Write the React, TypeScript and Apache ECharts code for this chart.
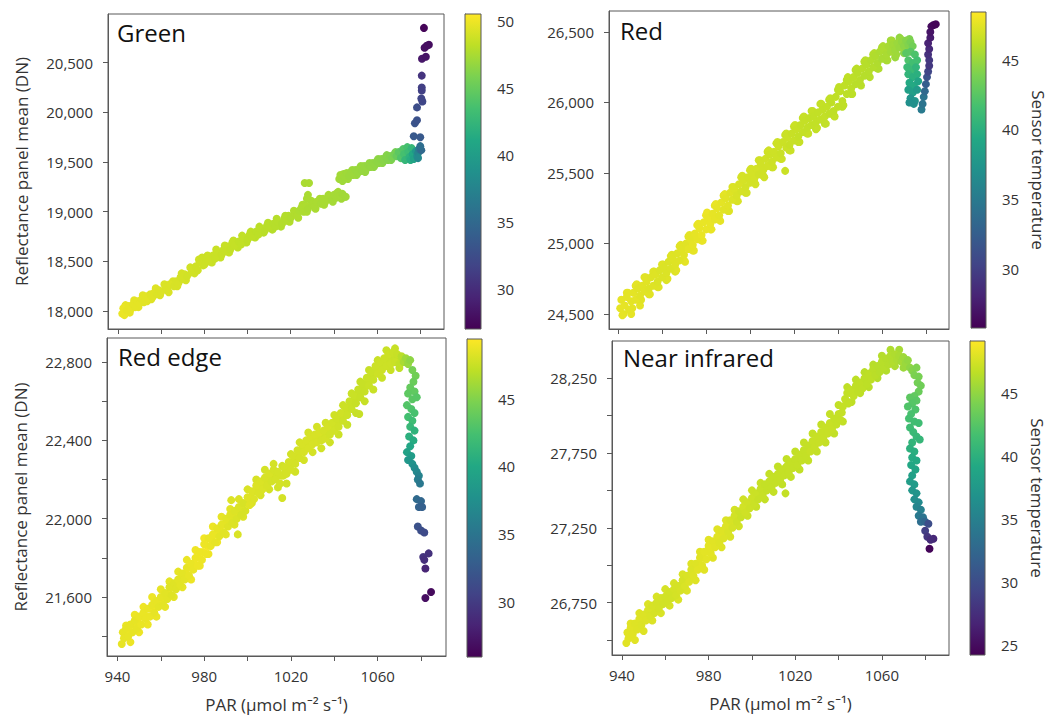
import React, { useEffect, useRef } from 'react';
import * as echarts from 'echarts';

// ---------- tick values ----------
const xTicks = [940, 960, 980, 1000, 1020, 1040, 1060, 1080];
const xLabels = [940, 980, 1020, 1060];

const greenYTicks = [18000, 18500, 19000, 19500, 20000, 20500];
const redYTicks = [24500, 25000, 25500, 26000, 26500];
const redEdgeYTicks = [21400, 21600, 21800, 22000, 22200, 22400, 22600, 22800];
const redEdgeYLabels = [21600, 22000, 22400, 22800];
const nirYTicks = [26500, 26750, 27000, 27250, 27500, 27750, 28000, 28250];
const nirYLabels = [26750, 27250, 27750, 28250];

const greenTempTicks = [30, 35, 40, 45, 50];
const redTempTicks = [30, 35, 40, 45];
const redEdgeTempTicks = [30, 35, 40, 45];
const nirTempTicks = [25, 30, 35, 40, 45];

const panelNames = ['Green', 'Red', 'Red edge', 'Near infrared'];

// ---------- data: [PAR, reflectance DN, sensor temperature] ----------
const greenPoints = [
  [942,17975,49.8],[942.5,18030,49.8],[943,17960,49.8],[944,18010,49.7],[945,18050,49.7],[946,18020,49.7],[947,18070,49.6],[948,18040,49.6],[949,18100,49.6],[950,18080,49.6],
  [951,18120,49.5],[952,18090,49.5],[953,18150,49.5],[954,18130,49.5],[955,18170,49.4],[956,18140,49.4],[957,18190,49.4],[958,18170,49.3],[959,18210,49.3],[960,18190,49.3],
  [962,18240,49.2],[963,18210,49.2],[964,18270,49.2],[966,18250,49.1],[967,18300,49.1],[968,18280,49.1],[969,18340,49],[970,18320,49],[971,18370,49],[972,18350,48.9],
  [974,18390,48.9],[975,18420,48.9],[976,18450,48.8],[977,18410,48.8],[978,18490,48.8],[979,18540,48.7],[980,18470,48.7],[981,18530,48.7],[982,18500,48.7],[984,18560,48.6],
  [985,18530,48.6],[986,18590,48.6],[988,18570,48.5],[989,18620,48.5],[990,18600,48.5],[991,18650,48.5],[992,18620,48.4],[993,18690,48.4],[994,18660,48.4],[996,18700,48.3],
  [997,18670,48.3],[998,18740,48.3],[1000,18720,48.2],[1001,18770,48.2],[1002,18750,48.2],[1004,18800,48.1],[1005,18770,48.1],[1006,18830,48.1],[1008,18810,48],[1009,18860,48],
  [1010,18840,48],[1012,18880,47.9],[1013,18850,47.9],[1014,18900,47.9],[1016,18880,47.8],[1017,18930,47.8],[1018,18910,47.8],[1019,18960,47.8],[1020,18940,47.7],[1022,18990,47.7],
  [1023,18960,47.7],[1024,19010,47.6],[1025,19040,47.6],[1026,19000,47.6],[1027,19060,47.6],[1028,19030,47.5],[1030,19080,47.5],[1031,19050,47.5],[1032,19100,47.5],[1034,19080,47.4],
  [1035,19130,47.4],[1036,19100,47.4],[1038,19150,47.4],[1039,19120,47.3],[1040,19170,47.3],[1041,19140,47.3],[1042,19200,47.3],[1043,19160,47.3],[1044,19180,47.2],[1045.5,19150,47.2],
  [1026.5,19290,47.5],[1028.5,19290,47.5],[1028,19170,47.5],[1027.5,19130,47.5],
  [1042.5,19330,47.2],[1043,19370,47.2],[1044,19310,47.1],[1045,19350,47.1],[1046,19390,47.1],[1047,19360,47],[1048,19400,47],[1049,19370,47],[1050,19420,46.9],[1051,19390,46.9],
  [1052,19440,46.9],[1053,19410,46.8],[1054,19460,46.8],[1055,19430,46.8],[1056,19470,46.7],[1057,19450,46.7],[1058,19490,46.6],[1059,19470,46.6],[1060,19510,46.5],[1061,19490,46.5],
  [1062,19530,46.4],[1063,19510,46.3],[1064,19550,46.2],[1065,19520,46.1],[1066,19560,46],[1067,19540,45.8],[1068,19580,45.6],
  [1069,19560,45],[1070,19600,44.5],[1071,19540,44],[1072,19630,44],[1072.5,19580,43.5],[1073,19520,42.5],[1074,19650,43.5],[1074.5,19600,43],[1075,19550,42],[1075.5,19520,41.5],
  [1076,19640,42.5],[1076.5,19580,41],[1077,19530,40.5],[1078,19610,39.5],[1078.5,19560,39],[1079,19590,37.5],[1079.5,19630,36.5],[1079,19540,38],[1080.5,19620,35],[1080,19660,35.5],
  [1077,19760,33.5],[1080,19750,33.5],[1077.5,19890,33],[1078.5,19920,32.8],[1078.5,20050,32.5],[1081,20110,32],[1080.5,20140,31.8],[1080.7,20220,31.5],[1080.7,20250,31.3],[1080.7,20370,30.5],
  [1080.8,20540,28.5],[1082.6,20560,28.3],[1082,20650,28],[1084,20680,27.8],[1083,20670,27.9],[1081.7,20850,27.3],
];
const greenFill = [
  [943.5,18060,49.7],[945.5,17985,49.7],[947.5,18110,49.6],[949.5,18040,49.6],[951.5,18160,49.5],[953.5,18100,49.5],[955.5,18120,49.4],[957.5,18230,49.4],[959.5,18160,49.3],[961.5,18270,49.2],
  [963.5,18190,49.2],[965.5,18300,49.1],[967.5,18250,49.1],[969.5,18380,49],[971.5,18310,49],[973.5,18440,48.9],[975.5,18380,48.9],[977.5,18520,48.8],[979.5,18460,48.7],[981.5,18560,48.7],
  [983.5,18490,48.6],[985.5,18620,48.6],[987.5,18540,48.5],[989.5,18660,48.5],[991.5,18590,48.5],[993.5,18710,48.4],[995.5,18640,48.3],[997.5,18760,48.3],[999.5,18690,48.2],[1001.5,18800,48.2],
  [1003.5,18740,48.1],[1005.5,18850,48.1],[1007.5,18790,48],[1009.5,18890,48],[1011.5,18820,47.9],[1013.5,18930,47.9],[1015.5,18850,47.8],[1017.5,18960,47.8],[1019.5,18900,47.8],[1021.5,19010,47.7],
  [1023.5,18940,47.7],[1025.5,19070,47.6],[1027.5,19000,47.6],[1029.5,19110,47.5],[1031.5,19030,47.5],[1033.5,19130,47.5],[1035.5,19070,47.4],[1037.5,19170,47.4],[1039.5,19100,47.3],[1041.5,19190,47.3],
  [1043.5,19130,47.2],
  [1044.5,19380,47.1],[1046.5,19330,47.1],[1048.5,19420,47],[1050.5,19370,46.9],[1052.5,19460,46.9],[1054.5,19400,46.8],[1056.5,19490,46.7],[1058.5,19450,46.6],[1060.5,19530,46.5],[1062.5,19490,46.4],
  [1064.5,19570,46.2],[1066.5,19520,46],[1068.5,19600,45.6],[1070.5,19570,45],
];

const redPoints = [
  [941,24540,47.6],[941.5,24600,47.6],[942,24490,47.6],[943,24560,47.6],[944,24620,47.5],[945,24530,47.5],[946,24590,47.5],[947,24650,47.5],[948,24600,47.5],[949,24680,47.4],
  [950,24630,47.4],[951,24700,47.4],[952,24660,47.4],[953,24730,47.4],[954,24680,47.3],[955,24760,47.3],[956,24700,47.3],[957,24780,47.3],[958,24730,47.2],[959,24810,47.2],
  [960,24760,47.2],[961,24830,47.2],[962,24790,47.2],[963,24870,47.2],[964,24820,47.2],[965,24890,47.3],[966,24850,47.3],[967,24930,47.3],[968,24880,47.3],[969,24960,47.4],
  [970,24920,47.4],[971,25000,47.4],[972,24960,47.5],[973,25030,47.5],[974,24990,47.6],[975,25070,47.6],[976,25030,47.6],[977,25110,47.7],[978,25060,47.7],[979,25150,47.7],
  [980,25100,47.7],[981,25180,47.7],[982,25140,47.7],[983,25210,47.6],[984,25170,47.6],[985,25250,47.6],[986,25200,47.5],[987,25290,47.5],[988,25240,47.4],[989,25320,47.4],
  [990,25270,47.4],[991,25360,47.3],[992,25310,47.2],[993,25380,47.2],[994,25340,47.1],[995,25420,47.1],[996,25370,47],[997,25450,47],[998,25400,46.9],[999,25470,46.9],
  [1000,25430,46.9],[1001,25500,46.9],[1002,25460,46.9],[1003,25530,46.9],[1004,25490,46.8],[1005,25560,46.8],[1006,25520,46.8],[1007,25600,46.8],[1008,25550,46.8],[1009,25630,46.7],
  [1010,25580,46.7],[1011,25650,46.7],[1012,25610,46.7],[1013,25690,46.7],[1014,25640,46.6],[1015,25720,46.6],[1016,25515,46.6],[1016.5,25680,46.6],[1017,25750,46.6],[1018,25700,46.5],
  [1019,25780,46.5],[1020,25730,46.5],[1021,25810,46.5],[1022,25760,46.4],[1023,25840,46.4],[1024,25790,46.4],[1025,25870,46.4],[1026,25820,46.3],[1027,25890,46.3],[1028,25840,46.3],
  [1029,25900,46.3],[1030,25860,46.3],[1031,25930,46.3],[1032,25880,46.3],[1033,25950,46.3],[1034,25900,46.3],[1035,25970,46.3],[1036,25920,46.2],[1037,26000,46.2],[1038,25940,46.2],
  [1039,26040,46.2],[1040,25970,46.2],[1041,26080,46.2],[1042,26010,46.2],[1043,26120,46.2],[1044,26060,46.1],[1045,26150,46.1],[1046,26100,46.1],[1047,26180,46.1],[1048,26130,46],
  [1049,26210,46],[1050,26160,46],[1051,26240,46],[1052,26190,45.9],[1053,26270,45.9],[1054,26220,45.9],[1055,26300,45.8],[1056,26250,45.8],[1057,26330,45.7],[1058,26280,45.7],
  [1059,26360,45.6],[1060,26310,45.5],[1061,26380,45.6],[1062,26340,45.5],[1063,26400,45.4],[1064,26360,45.3],[1065,26410,45.2],[1066,26370,45.1],[1067,26420,45],[1068,26390,44.9],
  [1069,26430,44.7],[1070,26400,44.5],[1071,26440,44.3],[1072,26410,44.1],[1073,26430,43.8],[1074,26400,43.5],
  [1071,26350,42.5],[1073,26360,42.5],[1075,26340,42],[1072,26300,42],[1074,26280,41.5],[1076,26300,41.5],[1071.5,26250,41],[1073.5,26230,41],[1075.5,26250,40.5],[1072,26200,40.5],
  [1074,26180,40],[1076,26200,40],[1072.5,26140,39.5],[1074.5,26120,39.5],[1076.5,26150,39],[1072,26090,38.5],[1074,26070,38.5],[1076,26090,38],[1073,26030,37.5],[1075,26010,37.5],
  [1072.5,26000,37],[1074.5,25990,37],
  [1078,25950,35],[1078.5,25990,34.5],[1079,26040,34.5],[1079.5,26080,33.5],[1080,26130,32.5],[1080.5,26180,31.5],[1081,26220,30.5],[1081.5,26260,29.5],[1081.5,26300,29.5],[1081,26340,29],
  [1081.5,26380,28.5],[1081,26420,28],[1082,26460,27.5],[1082,26500,27],[1082.5,26540,26.5],[1083.5,26550,26.2],[1084.5,26555,26],
];
const redFill = [
  [942.5,24500,47.5],[944.5,24650,47.5],[946.5,24540,47.5],[948.5,24710,47.5],[950.5,24600,47.4],[952.5,24760,47.4],[954.5,24640,47.4],[956.5,24800,47.3],[958.5,24690,47.3],[960.5,24850,47.3],
  [962.5,24750,47.3],[964.5,24920,47.3],[966.5,24810,47.4],[968.5,24990,47.4],[970.5,24870,47.5],[972.5,25060,47.5],[974.5,24950,47.6],[976.5,25140,47.7],[978.5,25020,47.7],[980.5,25220,47.8],
  [982.5,25100,47.7],[984.5,25280,47.7],[986.5,25160,47.6],[988.5,25350,47.5],[990.5,25230,47.3],[992.5,25400,47.2],[994.5,25300,47.1],[996.5,25480,47],[998.5,25360,46.9],[1000.5,25530,46.9],
  [1002.5,25420,46.9],[1004.5,25590,46.8],[1006.5,25470,46.8],[1008.5,25660,46.8],[1010.5,25540,46.7],[1012.5,25720,46.7],[1014.5,25600,46.7],[1016.5,25780,46.6],[1018.5,25660,46.6],[1020.5,25840,46.6],
  [1022.5,25720,46.5],[1024.5,25900,46.5],[1026.5,25780,46.5],[1028.5,25940,46.4],[1030.5,25820,46.4],[1032.5,25990,46.4],[1034.5,25850,46.3],[1036.5,26030,46.3],[1038.5,25900,46.3],[1040.5,26110,46.2],
  [1042.5,25980,46.2],[1044.5,26180,46.2],[1046.5,26060,46.1],[1048.5,26240,46.1],[1050.5,26120,46],[1052.5,26300,46],[1054.5,26180,45.9],[1056.5,26350,45.8],[1058.5,26240,45.7],[1060.5,26400,45.6],
  [1062.5,26300,45.5],[1064.5,26440,45.3],[1066.5,26340,45.1],[1068.5,26450,44.8],[1070.5,26370,44.5],[1072.5,26450,44],
];
const redOuter = [
  [944,24650,47.6],[946,24500,47.6],[948,24700,47.5],[950,24560,47.5],[952,24760,47.4],[954,24640,47.4],[956,24800,47.3],[958,24690,47.3],[960,24850,47.2],[962,24740,47.2],
  [964,24910,47.3],[966,24800,47.3],[968,24980,47.4],[970,24880,47.4],[972,25050,47.5],[974,24950,47.6],[976,25130,47.7],[978,25020,47.7],[980,25200,47.8],[982,25100,47.7],
  [984,25270,47.6],[986,25170,47.5],[988,25340,47.4],[990,25230,47.3],[992,25400,47.2],[994,25300,47.1],[996,25470,47],[998,25360,46.9],[1000,25520,46.9],[1002,25430,46.8],
  [1004,25590,46.8],[1006,25480,46.7],[1008,25650,46.7],[1010,25540,46.6],[1012,25710,46.6],[1014,25600,46.6],[1016,25770,46.5],[1018,25660,46.5],[1020,25830,46.5],[1022,25720,46.4],
  [1024,25890,46.4],[1026,25780,46.4],[1028,25940,46.3],[1030,25810,46.3],[1032,25990,46.3],[1034,25850,46.2],[1036,26020,46.2],[1038,25910,46.2],[1040,26090,46.1],[1042,25970,46.1],
  [1044,26160,46.1],[1046,26060,46],[1048,26230,46],[1050,26130,45.9],[1052,26290,45.9],[1054,26190,45.8],[1056,26340,45.7],[1058,26240,45.6],[1060,26390,45.5],[1062,26300,45.4],
  [1064,26440,45.2],[1066,26320,45],[1068,26460,44.7],[1070,26350,44.3],
];

const redEdgePoints = [
  [942,21360,48.6],[942.5,21420,48.6],[943,21390,48.6],[944,21440,48.6],[945,21400,48.6],[946,21460,48.6],[947,21420,48.6],[948,21480,48.6],[949,21440,48.6],[950,21500,48.7],
  [951,21460,48.7],[952,21520,48.7],[953,21490,48.7],[954,21540,48.7],[955,21500,48.7],[956,21560,48.6],[957,21520,48.6],[958,21580,48.6],[959,21550,48.5],[960,21600,48.5],
  [961,21560,48.5],[962,21620,48.4],[963,21590,48.4],[964,21650,48.3],[965,21610,48.3],[966,21670,48.3],[967,21640,48.3],[968,21690,48.4],[969,21660,48.4],[970,21720,48.5],
  [971,21690,48.5],[972,21750,48.6],[973,21710,48.6],[974,21770,48.7],[975,21740,48.7],[976,21800,48.8],[977,21760,48.8],[978,21830,48.8],[979,21790,48.8],[980,21870,48.8],
  [981,21820,48.8],[982,21900,48.7],[983,21860,48.7],[984,21920,48.7],[985,21880,48.6],[986,21950,48.6],[987,21910,48.5],[988,21970,48.5],[989,21930,48.4],[990,22000,48.4],
  [991,21960,48.3],[992,22020,48.3],[993,21980,48.2],[994,22040,48.2],[995,22000,48.1],[995.5,21920,48.1],[992.5,22095,48.2],[996,22060,48.1],[997,22020,48],[998,22080,48],[999,22040,48],
  [1000,22110,48.3],[1001,22070,48.3],[1002,22140,48.2],[1003,22100,48.2],[1004,22170,48.2],[1005,22130,48.1],[1006,22190,48.1],[1007,22150,48.1],[1008,22210,48],[1009,22170,48],
  [1010,22230,48],[1011,22190,47.9],[1012,22250,47.9],[1013,22200,47.9],[1014,22240,47.9],[1015,22180,47.9],[1016,22106,47.9],[1016.5,22220,47.9],[1017,22260,47.9],[1018,22230,47.9],
  [1019,22290,47.9],[1020,22250,47.9],[1021,22320,47.9],[1022,22280,47.9],[1023,22350,47.9],[1024,22310,47.9],[1025,22380,48],[1026,22340,48],[1027,22400,48],[1028,22360,48],
  [1029,22420,48],[1030,22380,48],[1031,22430,48],[1032,22390,48],[1033,22440,48],[1034,22400,47.9],[1035,22450,47.9],[1036,22410,47.9],[1037,22470,47.9],[1038,22430,47.8],
  [1039,22490,47.8],[1040,22450,47.8],[1041,22510,47.7],[1042,22470,47.7],[1043,22540,47.7],[1044,22500,47.6],[1045,22570,47.6],[1046,22530,47.6],[1047,22600,47.5],[1048,22560,47.5],
  [1049,22630,47.5],[1050,22590,47.4],[1051,22660,47.4],[1051.5,22535,47.4],[1052,22620,47.4],[1053,22690,47.4],[1054,22650,47.4],[1055,22720,47.5],[1056,22680,47.5],[1057,22750,47.5],
  [1058,22710,47.5],[1059,22780,47.6],[1060,22740,47.6],[1061,22800,47.6],[1062,22760,47.6],[1063,22820,47.6],[1064,22780,47.6],[1065,22840,47.6],[1066,22790,47.6],[1067,22850,47.5],
  [1068,22800,47.5],[1069,22840,47.4],[1070,22790,47.2],[1071,22830,46.9],[1072,22800,46.4],[1073,22820,46],[1074,22790,45.7],[1075,22810,45.4],
  [1076,22760,44.5],[1077.5,22730,44.3],[1076.5,22700,44],[1075,22670,43.8],[1077,22650,43.6],[1074,22640,43.5],[1076,22610,43.3],[1078,22620,43.2],[1073.5,22580,43],[1075.5,22560,42.8],
  [1077,22540,42.5],[1074,22520,42.3],[1076,22500,42],[1075,22470,41.5],[1077,22450,41],[1074.5,22420,40.7],[1076.5,22400,40.3],[1075,22370,39.8],[1073.5,22340,39.3],[1075.5,22320,38.8],
  [1074,22300,38.3],[1076,22280,37.8],[1077,22260,37.3],[1078,22240,36.8],[1079,22220,36.3],[1078.5,22200,35.8],[1079.5,22180,35.3],[1078,22100,34],[1080,22090,33.6],[1079,22060,33.2],
  [1080.5,22060,33],[1078.5,21960,31.8],[1080,21940,31.5],[1081.5,21930,31.2],[1081,21805,29.4],[1083.5,21823,29.2],[1081.5,21790,29],[1082,21746,28.3],[1082,21595,26.8],[1084.6,21626,26.5],
];
const redEdgeFill = [
  [943.5,21400,48.9],[945.5,21430,48.9],[947.5,21460,48.9],[949.5,21470,48.9],[951.5,21500,48.9],[953.5,21500,48.9],[955.5,21540,48.9],[957.5,21550,48.9],[959.5,21580,48.8],[961.5,21590,48.8],
  [963.5,21620,48.7],[965.5,21650,48.7],[967.5,21670,48.7],[969.5,21700,48.8],[971.5,21720,48.8],[973.5,21750,48.9],[975.5,21770,49],[977.5,21800,49],[979.5,21830,49],[981.5,21860,49],
  [983.5,21890,48.9],[985.5,21920,48.9],[987.5,21940,48.8],[989.5,21970,48.7],[991.5,21990,48.6],[993.5,22010,48.5],[995.5,22030,48.5],[997.5,22050,48.4],[999.5,22080,48.3],[1001.5,22110,48.2],
  [1003.5,22140,48.2],[1005.5,22160,48.1],[1007.5,22180,48],[1009.5,22200,48],[1011.5,22220,47.9],[1013.5,22220,47.9],[1015.5,22220,47.9],[1017.5,22240,47.9],[1019.5,22270,47.9],[1021.5,22300,47.9],
  [1023.5,22330,47.9],[1025.5,22360,47.9],[1027.5,22380,47.9],[1029.5,22400,47.9],[1031.5,22410,47.9],[1033.5,22420,47.9],[1035.5,22430,47.8],[1037.5,22450,47.8],[1039.5,22470,47.7],[1041.5,22490,47.7],
  [1043.5,22520,47.6],[1045.5,22550,47.6],[1047.5,22580,47.5],[1049.5,22610,47.5],[1051.5,22640,47.4],[1053.5,22670,47.4],[1055.5,22700,47.4],[1057.5,22730,47.4],[1059.5,22760,47.5],[1061.5,22780,47.5],
  [1063.5,22800,47.5],[1065.5,22815,47.5],[1067.5,22825,47.4],[1069.5,22815,47.2],[1071.5,22815,46.8],
];
const redEdgeOuter = [
  [944,21455,48.7],[946,21370,48.8],[948,21510,48.8],[950,21420,48.8],[952,21550,48.9],[954,21460,48.8],[956,21600,48.8],[958,21500,48.7],[960,21640,48.6],[962,21550,48.6],
  [964,21680,48.5],[966,21600,48.5],[968,21730,48.6],[970,21650,48.6],[972,21790,48.7],[974,21690,48.8],[976,21840,48.9],[978,21760,48.9],[980,21900,49],[982,21820,48.9],
  [984,21960,48.8],[986,21880,48.8],[988,22010,48.6],[990,21920,48.5],[992,22050,48.4],[994,21970,48.3],[996,22100,48.2],[998,22010,48.2],[1000,22150,48.1],[1002,22080,48.1],
  [1004,22200,48],[1006,22120,48],[1008,22250,47.9],[1010,22150,47.9],[1012,22280,47.9],[1014,22160,47.8],[1016,22270,47.8],[1018,22180,47.8],[1020,22330,47.8],[1022,22240,47.8],
  [1024,22390,47.9],[1026,22300,47.9],[1028,22440,47.9],[1030,22340,47.9],[1032,22470,47.9],[1034,22360,47.8],[1036,22490,47.8],[1038,22390,47.7],[1040,22530,47.7],[1042,22430,47.6],
  [1044,22580,47.6],[1046,22480,47.5],[1048,22640,47.5],[1050,22540,47.4],[1052,22700,47.4],[1054,22600,47.4],[1056,22760,47.4],[1058,22660,47.5],[1060,22810,47.5],[1062,22720,47.5],
  [1064,22860,47.5],[1066,22760,47.5],[1068,22870,47.4],[1070,22770,47.2],
];

const nirPoints = [
  [942,26480,48],[942.5,26550,48],[943,26510,48],[944,26580,48],[945,26540,48],[946,26610,47.9],[947,26570,47.9],[948,26640,47.9],[949,26600,47.8],[950,26670,47.8],
  [951,26630,47.8],[952,26700,47.7],[953,26660,47.7],[954,26730,47.6],[955,26680,47.6],[956,26750,47.5],[957,26710,47.5],[958,26780,47.5],[959,26740,47.4],[960,26790,47.4],
  [961,26760,47.4],[962,26820,47.4],[963,26780,47.4],[964,26840,47.5],[965,26800,47.5],[966,26860,47.5],[967,26830,47.6],[968,26900,47.6],[969,26860,47.7],[970,26930,47.7],
  [971,26890,47.8],[972,26970,47.8],[973,26930,47.9],[974,27010,47.9],[975,26970,48],[976,27050,48],[977,27000,48],[978,27090,48.1],[979,27040,48.1],[980,27130,48.1],
  [981,27080,48.1],[982,27160,48],[983,27120,48],[984,27190,48],[985,27150,47.9],[986,27230,47.9],[987,27180,47.8],[988,27260,47.8],[989,27220,47.7],[990,27300,47.6],
  [991,27250,47.5],[992,27330,47.4],[993,27290,47.3],[994,27360,47.2],[995,27320,47.1],[996,27390,47.4],[997,27350,47.3],[998,27420,47.3],[999,27380,47.2],[1000,27450,47.2],
  [1001,27410,47.1],[1002,27480,47.1],[1003,27440,47],[1004,27510,47],[1005,27470,47],[1006,27540,46.9],[1007,27500,46.9],[1008,27560,46.9],[1009,27520,46.9],[1010,27590,46.9],
  [1011,27550,46.9],[1012,27610,46.9],[1013,27570,46.9],[1014,27640,46.9],[1015,27600,46.9],[1015.5,27480,46.9],[1016,27660,46.9],[1017,27620,46.9],[1018,27690,46.9],[1019,27650,46.9],
  [1020,27710,46.9],[1021,27670,46.9],[1022,27740,46.9],[1023,27700,46.9],[1024,27770,46.9],[1025,27730,46.9],[1026,27800,46.9],[1027,27760,47],[1028,27830,47],[1029,27790,47],
  [1030,27860,47],[1031,27820,47],[1032,27890,47],[1033,27850,47],[1034,27920,47],[1035,27880,47],[1036,27950,47],[1037,27910,47],[1038,27980,46.9],[1039,27940,46.9],
  [1040,28010,46.9],[1041,27970,46.9],[1042,28060,46.9],[1043,28110,46.9],[1044,28150,46.8],[1044.5,28080,46.8],[1046,28170,46.8],[1047,28130,46.8],[1048,28200,46.7],[1049,28160,46.7],
  [1050,28220,46.7],[1051,28180,46.7],[1052,28250,46.6],[1053,28210,46.6],[1054,28280,46.6],[1055,28240,46.6],[1056,28310,46.5],[1057,28270,46.5],[1058,28330,46.4],[1059,28290,46.4],
  [1060,28360,46.4],[1061,28320,46.4],[1062,28380,46.3],[1063,28340,46.3],[1064,28400,46.2],[1065,28360,46.2],[1066,28410,46.1],[1067,28370,46],[1068,28400,45.9],[1069,28360,45.7],
  [1070,28390,45.5],[1071,28350,45.3],[1072,28370,45.1],[1073,28320,44.9],
  [1074,28300,44.5],[1076,28320,44.3],[1075,28270,44.2],[1077,28260,44],[1076.5,28220,43.8],[1078,28200,43.6],[1077,28160,43.4],[1075,28130,43],[1073,28120,42.8],[1076,28100,42.6],
  [1074,28080,42.4],[1072,28060,42.2],[1075.5,28040,42],[1073.5,28010,41.8],[1072.5,27980,41.6],[1075,27960,41.4],[1077,27950,41.3],[1073,27920,41.2],[1074.5,27890,41],[1076,27860,40.8],
  [1077.5,27840,40.6],[1074,27820,40.4],[1073,27780,40],[1075,27760,39.8],[1074,27720,39.5],[1076,27700,39.3],[1073.5,27670,39],[1075.5,27640,38.7],[1074,27600,38.3],[1073,27560,38],
  [1075,27540,37.7],[1074,27500,37.3],[1076,27480,37],[1075,27440,36.5],[1077,27420,36],[1076,27390,35.5],[1078,27370,35],[1077,27330,34.3],[1079,27320,33.8],[1078,27290,33.2],
  [1080,27290,32.5],[1081.5,27277,30],[1080,27230,28.8],[1081,27190,28],[1083.8,27177,27],[1082.5,27170,27.3],[1082,27110,24.5],
];
const nirFill = [
  [943.5,26530,48.1],[945.5,26575,48.1],[947.5,26605,48.1],[949.5,26640,48],[951.5,26670,48],[953.5,26700,47.9],[955.5,26720,47.9],[957.5,26750,47.8],[959.5,26770,47.8],[961.5,26795,47.8],
  [963.5,26815,47.8],[965.5,26835,47.8],[967.5,26870,47.9],[969.5,26900,47.9],[971.5,26935,48],[973.5,26975,48],[975.5,27010,48.1],[977.5,27050,48.1],[979.5,27090,48.2],[981.5,27125,48.2],
  [983.5,27160,48.1],[985.5,27195,48.1],[987.5,27225,48],[989.5,27265,47.9],[991.5,27295,47.8],[993.5,27330,47.7],[995.5,27360,47.6],[997.5,27395,47.5],[999.5,27420,47.4],[1001.5,27450,47.3],
  [1003.5,27480,47.2],[1005.5,27505,47.1],[1007.5,27535,47],[1009.5,27560,47],[1011.5,27585,47],[1013.5,27610,47],[1015.5,27630,47],[1017.5,27660,47],[1019.5,27685,47],[1021.5,27710,47],
  [1023.5,27740,47],[1025.5,27770,47],[1027.5,27800,47],[1029.5,27830,47],[1031.5,27860,47],[1033.5,27890,47],[1035.5,27920,47],[1037.5,27950,47],[1039.5,27980,46.9],[1041.5,28020,46.9],
  [1043.5,28100,46.8],[1045.5,28150,46.8],[1047.5,28170,46.8],[1049.5,28195,46.7],[1051.5,28220,46.7],[1053.5,28250,46.6],[1055.5,28275,46.6],[1057.5,28305,46.5],[1059.5,28330,46.4],[1061.5,28355,46.3],
  [1063.5,28375,46.2],[1065.5,28390,46.1],[1067.5,28390,45.9],[1069.5,28375,45.6],[1071.5,28360,45.2],
];
const nirOuter = [
  [944,26610,48],[946,26500,48],[948,26680,47.9],[950,26560,47.9],[952,26740,47.8],[954,26630,47.8],[956,26790,47.7],[958,26680,47.7],[960,26840,47.6],[962,26730,47.6],
  [964,26880,47.6],[966,26770,47.7],[968,26940,47.7],[970,26830,47.8],[972,27010,47.9],[974,26900,47.9],[976,27090,48],[978,26970,48],[980,27170,48.1],[982,27050,48],
  [984,27240,48],[986,27120,47.9],[988,27300,47.8],[990,27190,47.7],[992,27370,47.5],[994,27260,47.4],[996,27440,47.3],[998,27330,47.2],[1000,27500,47.1],[1002,27390,47],
  [1004,27550,47],[1006,27440,46.9],[1008,27610,46.9],[1010,27490,46.9],[1012,27660,46.8],[1014,27540,46.8],[1016,27710,46.8],[1018,27590,46.8],[1020,27760,46.8],[1022,27640,46.8],
  [1024,27820,46.9],[1026,27700,46.9],[1028,27880,46.9],[1030,27760,46.9],[1032,27940,46.9],[1034,27820,46.9],[1036,28010,46.9],[1038,27880,46.8],[1040,28070,46.8],[1042,27960,46.8],
  [1044,28190,46.7],[1046,28090,46.7],[1048,28240,46.6],[1050,28150,46.6],[1052,28290,46.5],[1054,28190,46.5],[1056,28340,46.4],[1058,28250,46.3],[1060,28400,46.3],[1062,28300,46.2],
  [1064,28440,46.1],[1066,28330,46],[1068,28440,45.8],[1070,28320,45.4],
];

// axis ranges
const greenX = [935.4, 1091];
const greenY = [17820, 20990];
const greenT = [27.0, 50.5];
const redX = [935.9, 1090.5];
const redY = [24393, 26649];
const redT = [25.8, 48.4];
const redEdgeX = [935.2, 1091.5];
const redEdgeY = [21299, 22923];
const redEdgeT = [25.9, 49.4];
const nirX = [935.4, 1091];
const nirY = [26400, 28498];
const nirT = [24.2, 49.1];

const VIRIDIS = ['#440154', '#482475', '#414487', '#355f8d', '#2a788e', '#21918c', '#22a884', '#44bf70', '#7ad151', '#bddf26', '#fde725'];

const FONT = '"Open Sans", "Noto Sans", "DejaVu Sans", sans-serif';
const AXIS_COLOR = '#595959';
const LABEL_COLOR = '#333333';

const fmt = (v: number) => String(v).replace(/\B(?=(\d{3})+(?!\d))/g, ',');

// layout (pixel boxes): [left, top, width, height]
const layout = [
  { grid: [108, 14, 336, 315], cb: [465, 14, 16, 315], title: [117, 20], isLeft: true, isBottom: false },
  { grid: [609, 11, 340, 318], cb: [971, 12, 15, 316], title: [620, 18], isLeft: false, isBottom: false },
  { grid: [107, 338, 339, 318], cb: [467, 339, 15, 318], title: [118, 344], isLeft: true, isBottom: true },
  { grid: [612, 341, 337, 314], cb: [970, 341, 15, 314], title: [623, 345], isLeft: false, isBottom: true },
];

export default function App() {
  const ref = useRef<HTMLDivElement>(null);

  useEffect(() => {
    if (!ref.current) return;
    const chart = echarts.init(ref.current, undefined, { renderer: 'svg' });

    const panels = [
      { points: [...greenFill, ...greenPoints], x: greenX, y: greenY, t: greenT, yTicks: greenYTicks, yLabels: greenYTicks, tTicks: greenTempTicks },
      { points: [...redOuter, ...redFill, ...redPoints], x: redX, y: redY, t: redT, yTicks: redYTicks, yLabels: redYTicks, tTicks: redTempTicks },
      { points: [...redEdgeOuter, ...redEdgeFill, ...redEdgePoints], x: redEdgeX, y: redEdgeY, t: redEdgeT, yTicks: redEdgeYTicks, yLabels: redEdgeYLabels, tTicks: redEdgeTempTicks },
      { points: [...nirOuter, ...nirFill, ...nirPoints], x: nirX, y: nirY, t: nirT, yTicks: nirYTicks, yLabels: nirYLabels, tTicks: nirTempTicks },
    ];

    const grids: any[] = [];
    const xAxes: any[] = [];
    const yAxes: any[] = [];
    const scatterSeries: any[] = [];
    const barSeries: any[] = [];
    const visualMaps: any[] = [];
    const titles: any[] = [];

    const labelStyle = { color: LABEL_COLOR, fontSize: 15, fontFamily: FONT };
    const nameStyle = { color: LABEL_COLOR, fontSize: 17, fontFamily: FONT };

    panels.forEach((p, i) => {
      const L = layout[i];
      const gi = 2 * i;
      grids.push({ left: L.grid[0], top: L.grid[1], width: L.grid[2], height: L.grid[3], show: true, borderColor: AXIS_COLOR, borderWidth: 1, containLabel: false });
      grids.push({ left: L.cb[0], top: L.cb[1], width: L.cb[2], height: L.cb[3], show: false, containLabel: false });

      xAxes.push({
        type: 'value', gridIndex: gi, min: p.x[0], max: p.x[1],
        axisLine: { show: true, onZero: false, lineStyle: { color: AXIS_COLOR, width: 1 } },
        axisTick: { show: true, length: 5, customValues: xTicks, lineStyle: { color: AXIS_COLOR } },
        axisLabel: { show: L.isBottom, customValues: xLabels, margin: 12, formatter: (v: number) => String(v), ...labelStyle },
        splitLine: { show: false },
        name: L.isBottom ? 'PAR (μmol m⁻² s⁻¹)' : '',
        nameLocation: 'middle', nameGap: 40, nameTextStyle: nameStyle,
      });
      yAxes.push({
        type: 'value', gridIndex: gi, min: p.y[0], max: p.y[1],
        axisLine: { show: true, onZero: false, lineStyle: { color: AXIS_COLOR, width: 1 } },
        axisTick: { show: true, length: 5, customValues: p.yTicks, lineStyle: { color: AXIS_COLOR } },
        axisLabel: { show: true, customValues: p.yLabels, margin: 15, formatter: (v: number) => fmt(v), ...labelStyle },
        splitLine: { show: false },
        name: L.isLeft ? 'Reflectance panel mean (DN)' : '',
        nameLocation: 'middle', nameGap: 78, nameRotate: 90, nameTextStyle: nameStyle,
      });

      // colorbar axes
      xAxes.push({ type: 'value', gridIndex: gi + 1, min: 0, max: 1, show: false });
      yAxes.push({
        type: 'value', gridIndex: gi + 1, min: p.t[0], max: p.t[1], position: 'right',
        axisLine: { show: true, lineStyle: { color: AXIS_COLOR, width: 1 } },
        axisTick: { show: true, length: 5, customValues: p.tTicks, lineStyle: { color: AXIS_COLOR } },
        axisLabel: { show: true, customValues: p.tTicks, margin: 16, ...labelStyle },
        splitLine: { show: false },
        name: L.isLeft ? '' : 'Sensor temperature',
        nameLocation: 'middle', nameGap: 44, nameRotate: -90, nameTextStyle: nameStyle,
      });

      scatterSeries.push({
        type: 'scatter', xAxisIndex: gi, yAxisIndex: gi, data: p.points,
        symbolSize: 8, itemStyle: { opacity: 1 }, silent: true,
      });

      const tMin = p.t[0];
      const tMax = p.t[1];
      barSeries.push({
        type: 'custom', xAxisIndex: gi + 1, yAxisIndex: gi + 1, silent: true,
        data: [[0, tMin, 1, tMax]],
        renderItem: (_params: any, api: any) => {
          const p0 = api.coord([api.value(0), api.value(3)]);
          const p1 = api.coord([api.value(2), api.value(1)]);
          const stops = VIRIDIS.slice().reverse().map((c, k) => ({ offset: k / (VIRIDIS.length - 1), color: c }));
          return {
            type: 'rect',
            shape: { x: p0[0], y: p0[1], width: p1[0] - p0[0], height: p1[1] - p0[1] },
            style: { fill: new echarts.graphic.LinearGradient(0, 0, 0, 1, stops), stroke: AXIS_COLOR, lineWidth: 1 },
          };
        },
      });

      visualMaps.push({
        type: 'continuous', show: false, seriesIndex: i, dimension: 2,
        min: tMin, max: tMax, inRange: { color: VIRIDIS },
      });

      titles.push({
        text: panelNames[i], left: L.title[0], top: L.title[1], padding: 0,
        textStyle: { fontSize: 24, fontWeight: 'normal', color: '#111111', fontFamily: FONT },
      });
    });

    chart.setOption({
      animation: false,
      backgroundColor: '#ffffff',
      title: titles,
      grid: grids,
      xAxis: xAxes,
      yAxis: yAxes,
      visualMap: visualMaps,
      series: [...scatterSeries, ...barSeries],
    });

    return () => chart.dispose();
  }, []);

  return <div ref={ref} style={{ position: 'absolute', left: 0, top: 0, width: 1057, height: 722 }} />;
}
